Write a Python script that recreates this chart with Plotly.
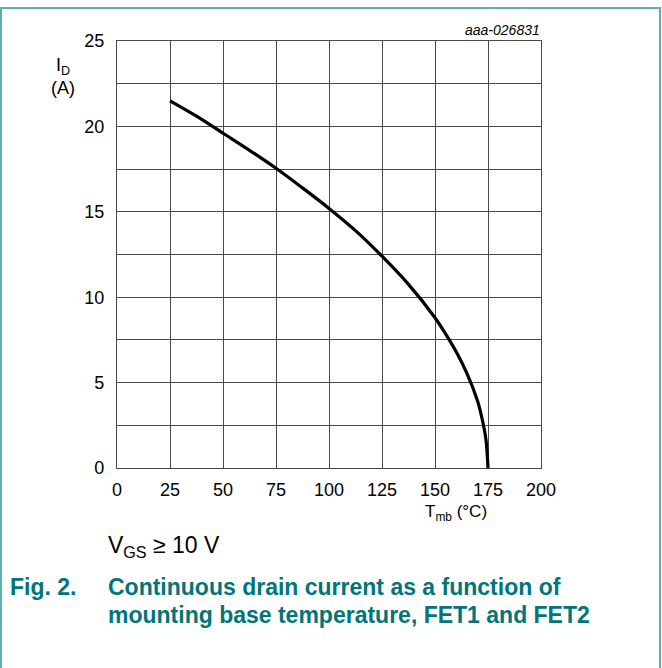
import plotly.graph_objects as go

temperature_c = [25, 37.5, 50, 62.5, 75, 87.5, 100, 112.5, 125, 137.5, 150, 155, 160, 165, 170, 172, 174, 175]
drain_current_a = [21.5, 20.6, 19.6, 18.6, 17.55, 16.4, 15.2, 13.9, 12.4, 10.75, 8.8, 7.85, 6.8, 5.55,
                   3.95, 3.0, 1.7, 0.0]

x_ticks = [0, 25, 50, 75, 100, 125, 150, 175, 200]
y_ticks = [0, 5, 10, 15, 20, 25]

W, H = 662, 668
L, R, T, B = 117, 541, 41, 468


def px(x):
    return (x - L) / (R - L)


def py(y):
    return (B - y) / (B - T)


FONT = "Liberation Sans, Arial, sans-serif"
TEAL = "#00757a"
GRID = "#4a4a4a"

fig = go.Figure()
fig.add_trace(go.Scatter(x=temperature_c, y=drain_current_a, mode="lines",
                         line=dict(color="black", width=3.2, shape="spline", smoothing=1.0),
                         hoverinfo="skip", showlegend=False))

fig.update_layout(
    width=W, height=H,
    margin=dict(l=L, r=W - R, t=T, b=H - B),
    paper_bgcolor="white", plot_bgcolor="white",
    font=dict(family=FONT, size=18, color="black"),
    showlegend=False,
)
fig.update_xaxes(range=[0, 200], tickvals=x_ticks, showgrid=True, gridcolor=GRID, gridwidth=1.3,
                 zeroline=False, showline=True, linecolor=GRID, linewidth=1.3, mirror=True,
                 ticks="", ticklabelstandoff=5, tickfont=dict(size=18, family=FONT))
fig.update_yaxes(range=[0, 25], tickvals=y_ticks, showgrid=True, gridcolor=GRID, gridwidth=1.3,
                 minor=dict(dtick=2.5, showgrid=True, gridcolor=GRID, gridwidth=1.3),
                 zeroline=False, showline=True, linecolor=GRID, linewidth=1.3, mirror=True,
                 ticks="", ticklabelstandoff=8, tickfont=dict(size=18, family=FONT))

ann = []


def add(text, x, y, xanchor="center", yanchor="middle", size=18, color="black", bold=False, italic=False):
    t = text
    if bold:
        t = "<b>" + t + "</b>"
    if italic:
        t = "<i>" + t + "</i>"
    ann.append(dict(text=t, x=px(x), y=py(y), xref="paper", yref="paper", xanchor=xanchor,
                    yanchor=yanchor, showarrow=False, font=dict(size=size, color=color, family=FONT)))


add("aaa-026831", 542, 30, xanchor="right", size=14, italic=True)
add("I<sub>D</sub>", 63, 67)
add("(A)", 63, 88)
add("T<sub>mb</sub> (°C)", 456, 513, size=17)
add("V<sub>GS</sub> ≥ 10 V", 106, 546, xanchor="left", size=23)
add("Fig. 2.", 8, 587, xanchor="left", size=23, color=TEAL, bold=True)
add("Continuous drain current as a function of", 106, 587, xanchor="left", size=23, color=TEAL, bold=True)
add("mounting base temperature, FET1 and FET2", 106, 615, xanchor="left", size=23, color=TEAL, bold=True)
fig.update_layout(annotations=ann)

fig.add_shape(type="rect", xref="paper", yref="paper",
              x0=px(1), x1=px(660), y0=py(672), y1=py(8),
              line=dict(color="#62adb0", width=2), fillcolor="rgba(0,0,0,0)", layer="above")

fig.write_html("out.html", config={"displayModeBar": False},
               post_script="document.body.style.margin='0';document.body.style.padding='0';")
